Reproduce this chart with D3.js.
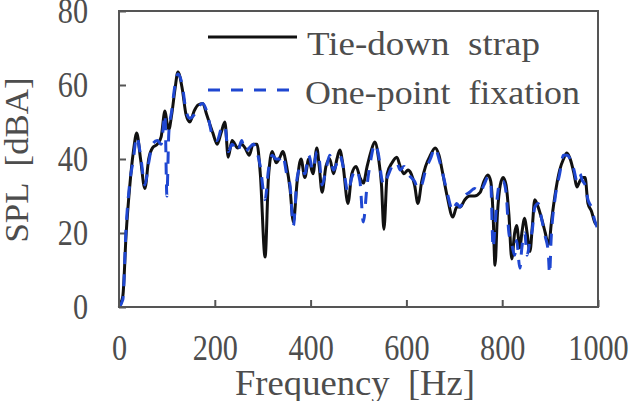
<!DOCTYPE html>
<meta charset='utf-8'>
<style>
    body { margin: 0; background: #fff; }
    text { font-family: 'Liberation Serif', serif; fill: #4d4d4d; }
</style>
<body>
<script src='https://d3js.org/d3.v7.min.js'></script>
<script>
// frequency grid [Hz]
const freq = [0, 8, 15, 22, 30, 37, 45, 54, 62, 70, 80, 88, 96, 100, 104, 110, 117, 123, 132, 140,
    148, 157, 165, 175, 183, 196, 205, 213, 221, 228, 236, 248, 256, 263, 272, 280, 288, 295, 305, 312,
    320, 328, 336, 342, 350, 357, 364, 372, 380, 388, 396, 405, 413, 418, 424, 432, 440, 448, 455, 461,
    468, 478, 486, 495, 503, 510, 518, 526, 534, 542, 548, 553, 560, 570, 580, 587, 595, 603, 610, 617,
    624, 632, 640, 650, 660, 668, 676, 685, 697, 705, 712, 722, 732, 742, 754, 762, 770, 776, 781, 785,
    790, 796, 802, 808, 814, 820, 826, 830, 837, 841, 847, 852, 858, 863, 868, 875, 882, 890, 896, 899,
    902, 910, 920, 928, 935, 942, 950, 956, 962, 968, 973, 979, 986, 994, 1000];

// SPL [dBA], tie-down strap
const strap = [0, 3, 20, 32, 42, 47, 40, 32, 40, 43, 44, 46, 53, 50, 48, 52, 59, 63.5, 59, 52,
    50, 53, 54.6, 55, 52, 47, 44, 47, 50, 40.5, 45, 43, 44, 43, 41, 44, 44, 36, 13.5, 35,
    42, 39, 40.5, 42, 38, 32, 23, 34, 40, 35, 40, 36, 43, 38, 31, 38, 40, 36, 40, 42.4,
    38, 28, 36, 38, 35, 33.5, 38, 42, 44.6, 40, 33, 21, 36, 39, 40.5, 38, 36, 37, 36, 33,
    28, 34, 38, 41, 43, 41, 36, 30, 24.3, 27, 27, 29, 30, 30, 31, 34, 35.7, 34, 25, 11.3,
    25, 33, 35, 33, 25, 13, 20, 22, 16, 20, 24, 20, 15, 22, 29, 27, 24, 20, 17, 18,
    22, 30, 37, 40, 41.6, 40, 36, 32.4, 34, 35, 35, 28, 26, 22.7, 22];

// SPL [dBA], one-point fixation
const fixation = [0, 2, 22, 33, 40, 46, 41, 33, 39, 44, 45, 44, 52, 30, 47, 53, 60, 63, 60, 53,
    51, 52, 54, 55, 53, 46, 45, 48, 49, 42, 44, 42, 45, 42, 43, 44, 42, 38, 29, 37,
    41, 40, 40, 41, 36, 33, 22, 35, 38, 36, 41, 37, 42, 40, 33, 37, 41, 37, 39, 41,
    38, 31, 35, 37, 34, 23, 33, 40, 44, 41, 35, 33, 35, 38, 39, 37, 38, 36, 35, 34,
    32, 33, 37, 40, 43, 40, 36, 31, 26, 28, 27, 30, 31, 32, 31, 33, 35, 34, 16, 22,
    30, 34, 34, 31, 20, 17, 14, 18, 10.5, 16, 20, 14, 18, 21, 27, 28, 24, 19, 15, 9,
    18, 29, 36, 41, 41, 40, 37, 34, 36, 34, 33, 29, 27, 23, 21];

const xTicks = [0, 200, 400, 600, 800, 1000];
const yTicks = [0, 20, 40, 60, 80];
const seriesNames = ['Tie-down strap', 'One-point fixation'];

const W = 634, H = 401;
const plot = { left: 119, right: 598, top: 11, bottom: 307 };

const svg = d3.select('body').append('svg')
    .attr('width', W)
    .attr('height', H);

const x = d3.scaleLinear().domain([0, 1000]).range([plot.left, plot.right]);
const y = d3.scaleLinear().domain([0, 80]).range([plot.bottom, plot.top]);

// squeeze a text node horizontally to look like the narrow original face
const squeeze = (sel, k) => sel.each(function() {
    const len = this.getComputedTextLength();
    d3.select(this).attr('textLength', len * k).attr('lengthAdjust', 'spacingAndGlyphs');
});

// Axes (ticks point inward)
const xAxis = svg.append('g')
    .attr('transform', `translate(0, ${plot.bottom})`)
    .call(d3.axisBottom(x).tickValues(xTicks).tickFormat(d3.format('d'))
        .tickSizeInner(-7).tickSizeOuter(0).tickPadding(27));
const yAxis = svg.append('g')
    .attr('transform', `translate(${plot.left}, 0)`)
    .call(d3.axisLeft(y).tickValues(yTicks).tickFormat(d3.format('d'))
        .tickSizeInner(-7).tickSizeOuter(0).tickPadding(31));

[xAxis, yAxis].forEach(a => {
    a.select('.domain').remove();
    a.selectAll('line').attr('stroke', '#555').attr('stroke-width', 2);
    a.selectAll('text')
        .attr('font-family', 'Liberation Serif, serif')
        .attr('font-size', 36)
        .attr('fill', '#4d4d4d')
        .call(squeeze, 0.84);
});

// Lines
const line = d3.line()
    .x((d, i) => x(freq[i]))
    .y(d => y(d))
    .curve(d3.curveMonotoneX);

svg.append('path')
    .datum(strap)
    .attr('fill', 'none')
    .attr('stroke', '#111')
    .attr('stroke-width', 3)
    .attr('d', line);

svg.append('path')
    .datum(fixation)
    .attr('fill', 'none')
    .attr('stroke', '#1f47d1')
    .attr('stroke-width', 3)
    .attr('stroke-dasharray', '12,10')
    .attr('d', line);

// Frame
svg.append('rect')
    .attr('x', plot.left)
    .attr('y', plot.top)
    .attr('width', plot.right - plot.left)
    .attr('height', plot.bottom - plot.top)
    .attr('fill', 'none')
    .attr('stroke', '#555')
    .attr('stroke-width', 2);

// Legend
const legend = [
    { name: seriesNames[0], ly: 37, ty: 55, tx: 307, w: 233, x2: 297, color: '#111', dash: null },
    { name: seriesNames[1], ly: 90, ty: 104, tx: 305, w: 275, x2: 292, color: '#1f47d1', dash: '12,11' }
];
legend.forEach(d => {
    svg.append('line')
        .attr('x1', 208).attr('x2', d.x2)
        .attr('y1', d.ly).attr('y2', d.ly)
        .attr('stroke', d.color)
        .attr('stroke-width', 3)
        .attr('stroke-dasharray', d.dash);
    svg.append('text')
        .attr('x', d.tx)
        .attr('y', d.ty)
        .attr('font-size', 33)
        .style('white-space', 'pre')
        .attr('textLength', d.w)
        .attr('lengthAdjust', 'spacingAndGlyphs')
        .text(d.name.replace(/ (\w+)$/, '  $1'));
});

// Axis titles
svg.append('text')
    .attr('x', 355)
    .attr('y', 395)
    .attr('text-anchor', 'middle')
    .attr('font-size', 36)
    .style('white-space', 'pre')
    .attr('textLength', 240)
    .attr('lengthAdjust', 'spacingAndGlyphs')
    .text('Frequency  [Hz]');

svg.append('text')
    .attr('transform', 'translate(28, 160) rotate(-90)')
    .attr('text-anchor', 'middle')
    .attr('font-size', 33)
    .style('white-space', 'pre')
    .attr('textLength', 165)
    .attr('lengthAdjust', 'spacingAndGlyphs')
    .text('SPL  [dBA]');
</script>
</body>
